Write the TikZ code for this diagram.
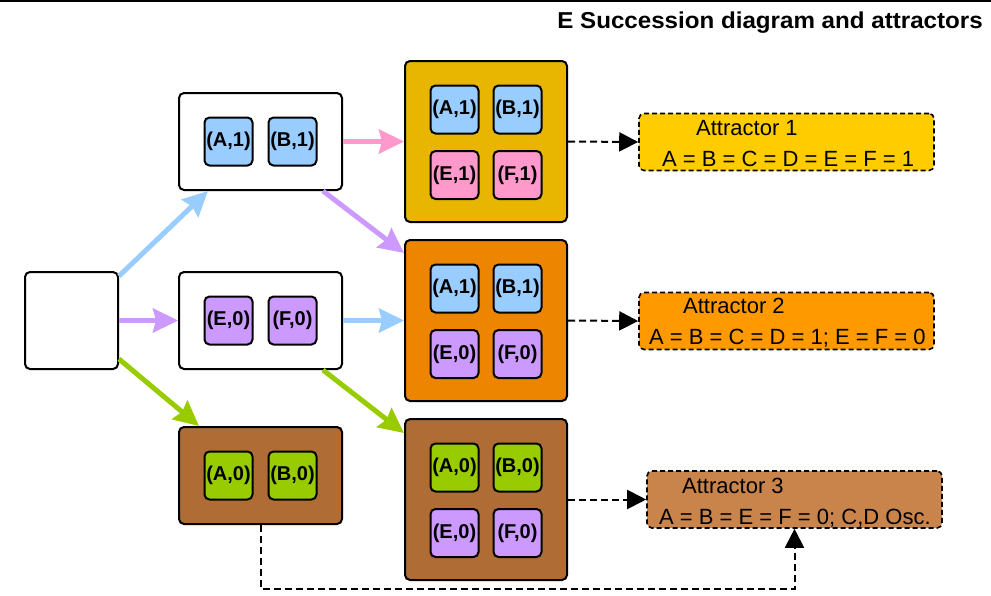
\documentclass[tikz,border=0pt]{standalone}
\usepackage{fontspec}
\setmainfont{Liberation Sans}
\newfontfamily\titlefont[FakeStretch=1.05]{Liberation Sans}
\usetikzlibrary{arrows.meta,calc}
\definecolor{cblue}{HTML}{99CCFF}
\definecolor{cpink}{HTML}{FF99CC}
\definecolor{clav}{HTML}{CC99FF}
\definecolor{cgreen}{HTML}{99CC00}
\definecolor{cbrown}{HTML}{B06C35}
\definecolor{cyellow}{HTML}{E8B600}
\definecolor{corange}{HTML}{EE8500}
\definecolor{attone}{HTML}{FFCC00}
\definecolor{atttwo}{HTML}{FF9900}
\definecolor{attthree}{HTML}{C8844B}
\begin{document}
\begin{tikzpicture}[x=1pt,y=-1pt,
  box/.style={draw=black,line width=2pt,rounded corners=5pt,inner sep=0pt},
  midbox/.style={box,minimum width=163pt,minimum height=97pt},
  bigbox/.style={box,minimum width=162pt,minimum height=161pt},
  cell/.style={box,minimum width=48pt,minimum height=48pt,
    font=\fontsize{20}{23}\selectfont\bfseries},
  attbox/.style={draw=black,line width=1.6pt,dash pattern=on 5pt off 3pt,
    rounded corners=5pt,inner sep=0pt,minimum height=57pt},
  atttext/.style={anchor=base west,inner sep=0pt,font=\fontsize{22}{26}\selectfont},
  flow/.style={line width=5pt,-{Stealth[length=25pt,width=24pt,inset=3pt]}},
  dashlink/.style={draw=black,line width=2pt,dash pattern=on 7pt off 4pt,
    -{Triangle[length=19pt,width=19pt]}}
]
\useasboundingbox (0,0) rectangle (991,595);
\draw[line width=1.8pt] (0,1) -- (991,1);
\node[anchor=base east,inner sep=0pt,
  font=\titlefont\fontsize{23}{26}\selectfont\bfseries] (title) at (983,28)
  {E Succession diagram and attractors};

% left empty box
\node[box,fill=white,minimum width=93pt,minimum height=97pt] (lb) at (71.5,320.5) {};

% middle column
\node[midbox,fill=white] (ab1) at (260.5,141.5) {};
\node[cell,fill=cblue] (ab1a) at (228.5,141.5) {(A,1)};
\node[cell,fill=cblue] (ab1b) at (292.5,141.5) {(B,1)};

\node[midbox,fill=white] (ef0) at (260.5,320.5) {};
\node[cell,fill=clav] (ef0e) at (228.5,320.5) {(E,0)};
\node[cell,fill=clav] (ef0f) at (292.5,320.5) {(F,0)};

\node[midbox,fill=cbrown] (ab0) at (260.5,475.5) {};
\node[cell,fill=cgreen] (ab0a) at (228.5,475.5) {(A,0)};
\node[cell,fill=cgreen] (ab0b) at (292.5,475.5) {(B,0)};

% big boxes
\node[bigbox,fill=cyellow] (yb) at (486,141.5) {};
\node[cell,fill=cblue] (yba) at (454.5,109.5) {(A,1)};
\node[cell,fill=cblue] (ybb) at (517.5,109.5) {(B,1)};
\node[cell,fill=cpink] (ybe) at (454.5,175) {(E,1)};
\node[cell,fill=cpink] (ybf) at (517.5,175) {(F,1)};

\node[bigbox,fill=corange] (ob) at (486,320.5) {};
\node[cell,fill=cblue] (oba) at (454.5,288.5) {(A,1)};
\node[cell,fill=cblue] (obb) at (517.5,288.5) {(B,1)};
\node[cell,fill=clav] (obe) at (454.5,354) {(E,0)};
\node[cell,fill=clav] (obf) at (517.5,354) {(F,0)};

\node[bigbox,fill=cbrown] (bb) at (486,499.5) {};
\node[cell,fill=cgreen] (bba) at (454.5,467.5) {(A,0)};
\node[cell,fill=cgreen] (bbb) at (517.5,467.5) {(B,0)};
\node[cell,fill=clav] (bbe) at (454.5,533) {(E,0)};
\node[cell,fill=clav] (bbf) at (517.5,533) {(F,0)};

% attractors
\node[attbox,fill=attone,minimum width=295pt] (a1) at (786.5,142) {};
\node[atttext] (a1t) at (696,135) {Attractor 1};
\node[atttext] (a1s) at (662,166) {A = B = C = D = E = F = 1};

\node[attbox,fill=atttwo,minimum width=295pt] (a2) at (786.5,321) {};
\node[atttext] (a2t) at (683,313) {Attractor 2};
\node[atttext] (a2s) at (649,344) {A = B = C = D = 1; E = F = 0};

\node[attbox,fill=attthree,minimum width=295pt] (a3) at (794.5,499.5) {};
\node[atttext] (a3t) at (682,493) {Attractor 3};
\node[atttext] (a3s) at (659,524) {A = B = E = F = 0; C,D Osc.};

% coloured flows
\draw[flow,cblue] ($(lb.north east)+(0,5)$) -- ($(ab1.south west)+(30,0)$);
\draw[flow,clav] (lb.east) -- (ef0.west);
\draw[flow,cgreen] ($(lb.south east)+(0,-11)$) -- ($(ab0.north west)+(21,0)$);
\draw[flow,cpink] (ab1.east) -- (yb.west);
\draw[flow,clav] ($(ab1.south east)+(-20,0)$) -- ($(ob.north west)+(0,14)$);
\draw[flow,cblue] (ef0.east) -- (ob.west);
\draw[flow,cgreen] ($(ef0.south east)+(-20,0)$) -- ($(bb.north west)+(0,15)$);

% dashed connectors to attractors
\draw[dashlink] (yb.east) -- (a1.west);
\draw[dashlink] (ob.east) -- (a2.west);
\draw[dashlink] (bb.east) -- (a3.west);
\coordinate (bot) at (794.5,589);
\draw[dashlink] (ab0.south) |- (bot) -- (a3.south);
\end{tikzpicture}
\end{document}
